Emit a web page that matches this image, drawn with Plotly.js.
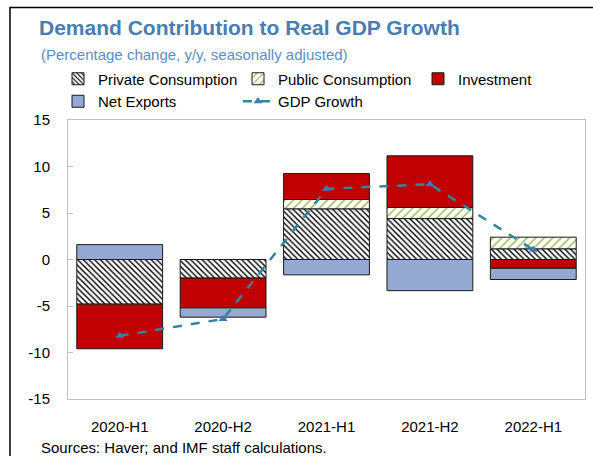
<!DOCTYPE html>
<html>
<head>
<meta charset="utf-8">
<script src="https://cdn.plot.ly/plotly-3.0.1.min.js"></script>
<style>html,body{margin:0;padding:0;background:#fff;}#chart{width:593px;height:456px;}</style>
</head>
<body>
<div id="chart"></div>
<script>
const categories = ['2020-H1', '2020-H2', '2021-H1', '2021-H2', '2022-H1'];
const privateConsumption = [-4.8, -2.0, 5.45, 4.4, 1.15];
const publicConsumption = [0, 0, 1.0, 1.2, 1.25];
const investment = [-4.8, -3.2, 2.8, 5.55, -0.95];
const netExports = [1.6, -1.0, -1.65, -3.35, -1.2];
const gdpGrowth = [-8.2, -6.4, 7.6, 8.1, 1.05];
const yTicks = [-15, -10, -5, 0, 5, 10, 15];

const FONT = 'Liberation Sans, Arial, sans-serif';
const outline = {color: '#1a1a1a', width: 1};

const traces = [
  {type: 'bar', name: 'Private Consumption', x: categories, y: privateConsumption,
   marker: {color: '#ffffff', line: outline,
            pattern: {shape: '\\', fgcolor: '#000000', bgcolor: '#ffffff', size: 4, solidity: 0.35}}},
  {type: 'bar', name: 'Public Consumption', x: categories, y: publicConsumption,
   marker: {color: '#ffffff', line: outline,
            pattern: {shape: '/', fgcolor: '#9BBB59', bgcolor: '#ffffff', size: 6, solidity: 0.25}}},
  {type: 'bar', name: 'Investment', x: categories, y: investment,
   marker: {color: '#C00000', line: outline}},
  {type: 'bar', name: 'Net Exports', x: categories, y: netExports,
   marker: {color: '#94A9D2', line: outline}},
  {type: 'scatter', mode: 'lines+markers', name: 'GDP Growth', x: categories, y: gdpGrowth,
   line: {color: '#31859C', width: 2.5, dash: 'dash'},
   marker: {symbol: 'triangle-up', size: 8, color: '#3F78B6'}}
];

const layout = {
  width: 593, height: 456,
  margin: {l: 68, r: 8, t: 120, b: 57, autoexpand: false},
  paper_bgcolor: '#ffffff', plot_bgcolor: '#ffffff',
  font: {family: FONT, size: 15, color: '#000000'},
  barmode: 'relative', bargap: 0.17,
  title: {text: '<b>Demand Contribution to Real GDP Growth</b>',
          font: {family: FONT, size: 21, color: '#4A7DB1'},
          xref: 'container', x: 39 / 593, xanchor: 'left',
          yref: 'container', y: 1 - 20 / 456, yanchor: 'top'},
  showlegend: true,
  legend: {orientation: 'h', x: (58 - 68) / 517, xanchor: 'left', y: 1 + (120 - 62.5) / 279, yanchor: 'top',
           font: {family: FONT, size: 15, color: '#000000'}, bgcolor: 'rgba(0,0,0,0)',
           traceorder: 'normal', entrywidth: 135, entrywidthmode: 'pixels', itemgap: 0},
  xaxis: {type: 'category', categoryarray: categories, range: [-0.5, 4.5],
          showline: true, linecolor: '#BFBFBF', linewidth: 1, mirror: true,
          ticks: '', showgrid: false, zeroline: false, ticklabelstandoff: 14,
          tickfont: {family: FONT, size: 15, color: '#000000'}},
  xaxis2: {overlaying: 'x', anchor: 'free', position: 0.5, range: [-0.5, 4.5],
           showline: true, linecolor: '#BFBFBF', linewidth: 1,
           tickvals: [0.5, 1.5, 2.5, 3.5], ticks: 'inside', ticklen: 5, tickcolor: '#BFBFBF',
           showticklabels: false, showgrid: false, zeroline: false},
  yaxis: {range: [-15, 15], tickvals: yTicks, ticktext: yTicks.map(String),
          showline: true, linecolor: '#BFBFBF', linewidth: 1, mirror: true,
          ticks: 'inside', ticklen: 5, tickcolor: '#BFBFBF',
          showgrid: false, zeroline: false, ticklabelstandoff: 14,
          tickfont: {family: FONT, size: 15, color: '#000000'}},
  annotations: [
    {text: '(Percentage change, y/y, seasonally adjusted)', xref: 'paper', yref: 'paper',
     x: (39 - 68) / 517, xanchor: 'left', y: 1 + (120 - 44) / 279, yanchor: 'top', showarrow: false,
     font: {family: FONT, size: 15, color: '#5B8FC8'}},
    {text: 'Sources: Haver; and IMF staff calculations.', xref: 'paper', yref: 'paper',
     x: (39 - 68) / 517, xanchor: 'left', y: (399 - 437) / 279, yanchor: 'top', showarrow: false,
     font: {family: FONT, size: 15, color: '#000000'}}
  ],
  shapes: [
    {type: 'rect', xref: 'paper', yref: 'paper', x0: (10 - 68) / 517, x1: 1.5, y0: -1, y1: 1 + (120 - 7.5) / 279,
     line: {color: '#000000', width: 1.5}, fillcolor: 'rgba(0,0,0,0)'}
  ]
};

Plotly.newPlot('chart', traces, layout, {displayModeBar: false, staticPlot: true});
</script>
</body>
</html>
